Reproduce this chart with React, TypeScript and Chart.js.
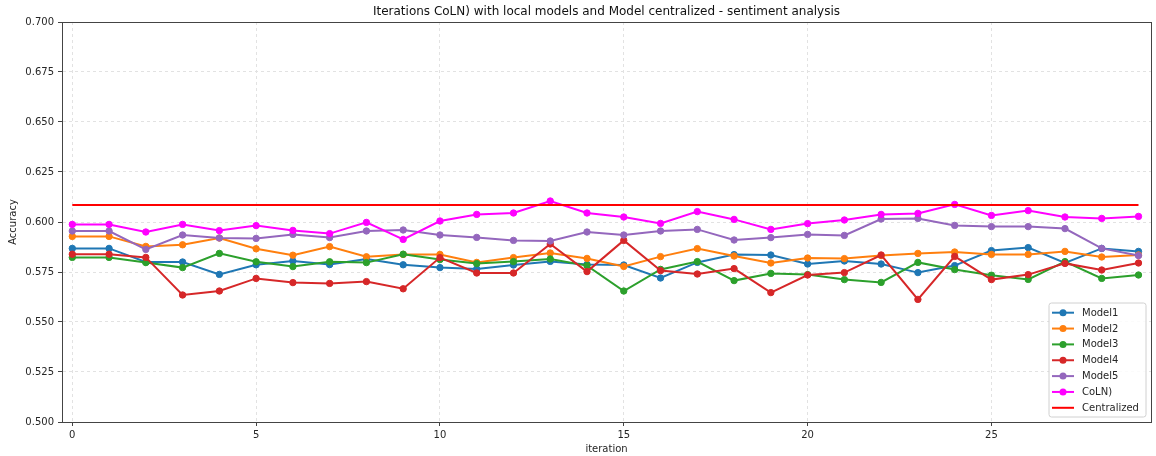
import React, { useEffect, useRef } from "react";
import { Chart, registerables } from "chart.js";

Chart.register(...registerables);

const FONT = "'DejaVu Sans', 'Liberation Sans', sans-serif";

const iterations = [
  0, 1, 2, 3, 4, 5, 6, 7, 8, 9, 10, 11, 12, 13, 14, 15, 16, 17, 18, 19, 20, 21, 22, 23, 24, 25, 26, 27,
  28, 29,
];

const model1 = [
  0.5868, 0.5868, 0.58, 0.58, 0.5738, 0.5786, 0.5805, 0.5787, 0.5815, 0.5786, 0.5772, 0.5765, 0.5785,
  0.5803, 0.5788, 0.5785, 0.572, 0.5798, 0.5837, 0.5835, 0.579, 0.5805, 0.579, 0.5747, 0.5782, 0.5857,
  0.5872, 0.5795, 0.5868, 0.5853,
];
const model2 = [
  0.5928, 0.5928, 0.5878, 0.5886, 0.592, 0.5866, 0.5834, 0.5877, 0.5826, 0.5838, 0.5838, 0.5798, 0.5822,
  0.5845, 0.5818, 0.5778, 0.5827, 0.5867, 0.583, 0.5795, 0.582, 0.5817, 0.5832, 0.5843, 0.585, 0.5838,
  0.5838, 0.5853, 0.5825, 0.5835,
];
const model3 = [
  0.5823, 0.5823, 0.5797, 0.5772, 0.5843, 0.5801, 0.5777, 0.5801, 0.5797, 0.5839, 0.5812, 0.5792, 0.5802,
  0.5815, 0.5782, 0.5655, 0.5763, 0.5802, 0.5707, 0.5743, 0.5737, 0.5712, 0.5698, 0.5798, 0.5762, 0.5734,
  0.5713, 0.5802, 0.5718, 0.5735,
];
const model4 = [
  0.5839, 0.5839, 0.5823, 0.5635, 0.5655, 0.5718, 0.5697, 0.5693, 0.5702, 0.5666, 0.5822, 0.5745, 0.5745,
  0.589, 0.5752, 0.5908, 0.5757, 0.574, 0.5767, 0.5647, 0.5735, 0.5747, 0.5835, 0.5613, 0.5828, 0.5712,
  0.5737, 0.5793, 0.576, 0.5795,
];
const model5 = [
  0.5955, 0.5955, 0.5863, 0.5935, 0.592, 0.5918, 0.5938, 0.5922, 0.5955, 0.596, 0.5935, 0.5923, 0.5908,
  0.5905, 0.595, 0.5935, 0.5955, 0.5963, 0.591, 0.5922, 0.5938, 0.5933, 0.6015, 0.6018, 0.5983, 0.5977,
  0.5977, 0.5967, 0.5868, 0.5832,
];
const coln = [
  0.5988, 0.5988, 0.595, 0.5988, 0.5957, 0.5982, 0.5958, 0.5942, 0.5998, 0.5913, 0.6005, 0.6038, 0.6045,
  0.6105, 0.6045, 0.6025, 0.5993, 0.6052, 0.6013, 0.5963, 0.5992, 0.601, 0.6038, 0.6043, 0.6088, 0.6033,
  0.6057, 0.6025, 0.6018, 0.6028,
];
const centralizedAccuracy = 0.6085;

const seriesNames = ["Model1", "Model2", "Model3", "Model4", "Model5", "CoLN)"];
const seriesValues = [model1, model2, model3, model4, model5, coln];
const seriesColors = ["#1f77b4", "#ff7f0e", "#2ca02c", "#d62728", "#9467bd", "#ff00ff"];
const centralizedName = "Centralized";
const centralizedColor = "#ff0000";

const xTickValues = [0, 5, 10, 15, 20, 25];
const yTickValues = [0.5, 0.525, 0.55, 0.575, 0.6, 0.625, 0.65, 0.675, 0.7];

const titleText = "Iterations CoLN) with local models and Model centralized - sentiment analysis";
const xAxisLabel = "iteration";
const yAxisLabel = "Accuracy";

const FRAME = "#444444";
const GRID = "#e2e2e2";
const TEXT = "#262626";

// Frame, titles and an in-plot legend drawn on top of the chart
const decorations = {
  id: "decorations",
  afterDraw(chart: any) {
    const { ctx, chartArea } = chart;
    const { left, right, top, bottom } = chartArea;
    ctx.save();

    ctx.strokeStyle = FRAME;
    ctx.lineWidth = 1;
    ctx.strokeRect(Math.round(left) + 0.5, Math.round(top) + 0.5, Math.round(right - left), Math.round(bottom - top));

    const cx = (left + right) / 2;
    ctx.fillStyle = "#111";
    ctx.textAlign = "center";
    ctx.textBaseline = "middle";
    ctx.font = `12px ${FONT}`;
    ctx.fillText(titleText, cx, 12);

    ctx.font = `10px ${FONT}`;
    ctx.fillStyle = TEXT;
    ctx.fillText(xAxisLabel, cx, 449);

    ctx.save();
    ctx.translate(13, (top + bottom) / 2);
    ctx.rotate(-Math.PI / 2);
    ctx.fillText(yAxisLabel, 0, 0);
    ctx.restore();

    // legend
    const bx = 1049;
    const by = 303;
    const bw = 97;
    const bh = 114;
    ctx.beginPath();
    const r = 2.5;
    ctx.moveTo(bx + r, by);
    ctx.lineTo(bx + bw - r, by);
    ctx.quadraticCurveTo(bx + bw, by, bx + bw, by + r);
    ctx.lineTo(bx + bw, by + bh - r);
    ctx.quadraticCurveTo(bx + bw, by + bh, bx + bw - r, by + bh);
    ctx.lineTo(bx + r, by + bh);
    ctx.quadraticCurveTo(bx, by + bh, bx, by + bh - r);
    ctx.lineTo(bx, by + r);
    ctx.quadraticCurveTo(bx, by, bx + r, by);
    ctx.closePath();
    ctx.fillStyle = "rgba(255,255,255,0.85)";
    ctx.fill();
    ctx.strokeStyle = "#d0d0d0";
    ctx.lineWidth = 1;
    ctx.stroke();

    const names = [...seriesNames, centralizedName];
    const colors = [...seriesColors, centralizedColor];
    ctx.textAlign = "left";
    ctx.textBaseline = "middle";
    ctx.font = `10px ${FONT}`;
    names.forEach((name, i) => {
      const y = 312.7 + i * 15.85;
      ctx.strokeStyle = colors[i];
      ctx.lineWidth = 2;
      ctx.beginPath();
      ctx.moveTo(1052, y);
      ctx.lineTo(1074, y);
      ctx.stroke();
      if (i < seriesNames.length) {
        ctx.fillStyle = colors[i];
        ctx.beginPath();
        ctx.arc(1063, y, 3.5, 0, Math.PI * 2);
        ctx.fill();
      }
      ctx.fillStyle = TEXT;
      ctx.fillText(name, 1082, y + 0.5);
    });

    ctx.restore();
  },
};

export default function App() {
  const canvasRef = useRef<HTMLCanvasElement | null>(null);

  useEffect(() => {
    document.body.style.margin = "0";
    const canvas = canvasRef.current;
    if (!canvas) return;

    const datasets: any[] = seriesNames.map((name, i) => ({
      label: name,
      data: iterations.map((it, j) => ({ x: it, y: seriesValues[i][j] })),
      borderColor: seriesColors[i],
      backgroundColor: seriesColors[i],
      pointBackgroundColor: seriesColors[i],
      pointBorderColor: seriesColors[i],
      borderWidth: 2,
      pointRadius: 3.2,
      pointBorderWidth: 1,
      tension: 0,
      order: 10 - i,
    }));
    datasets.push({
      label: centralizedName,
      data: [
        { x: iterations[0], y: centralizedAccuracy },
        { x: iterations[iterations.length - 1], y: centralizedAccuracy },
      ],
      borderColor: centralizedColor,
      backgroundColor: centralizedColor,
      borderWidth: 2,
      pointRadius: 0,
      order: 1,
    });

    const chart = new Chart(canvas, {
      type: "line",
      data: { datasets },
      options: {
        animation: false,
        responsive: false,
        devicePixelRatio: 1,
        layout: { padding: { top: 22, right: 4, left: 0, bottom: 0 } },
        plugins: {
          legend: { display: false },
          title: { display: false },
          tooltip: { enabled: false },
        },
        scales: {
          x: {
            type: "linear",
            min: -0.28,
            max: 29.34,
            afterBuildTicks: (scale: any) => {
              scale.ticks = xTickValues.map((v) => ({ value: v }));
            },
            afterFit: (scale: any) => {
              scale.height = 34;
            },
            ticks: {
              font: { family: FONT, size: 10 },
              color: TEXT,
              padding: 3,
              maxRotation: 0,
              callback: (v: any) => String(v),
            },
            grid: {
              color: GRID,
              lineWidth: 1,
              tickLength: 4,
              tickColor: FRAME,
              tickWidth: 1,
            },
            border: { display: true, color: FRAME, width: 1, dash: [3, 3] },
          },
          y: {
            type: "linear",
            min: 0.5,
            max: 0.7,
            afterBuildTicks: (scale: any) => {
              scale.ticks = yTickValues.map((v) => ({ value: v }));
            },
            afterFit: (scale: any) => {
              scale.width = 62;
            },
            ticks: {
              font: { family: FONT, size: 10 },
              color: TEXT,
              padding: 4,
              callback: (v: any) => Number(v).toFixed(3),
            },
            grid: {
              color: GRID,
              lineWidth: 1,
              tickLength: 4,
              tickColor: FRAME,
              tickWidth: 1,
            },
            border: { display: true, color: FRAME, width: 1, dash: [3, 3] },
          },
        },
      },
      plugins: [decorations],
    });

    return () => chart.destroy();
  }, []);

  return (
    <div style={{ width: 1156, height: 456 }}>
      <canvas ref={canvasRef} width={1156} height={456} style={{ width: 1156, height: 456, display: "block" }} />
    </div>
  );
}
